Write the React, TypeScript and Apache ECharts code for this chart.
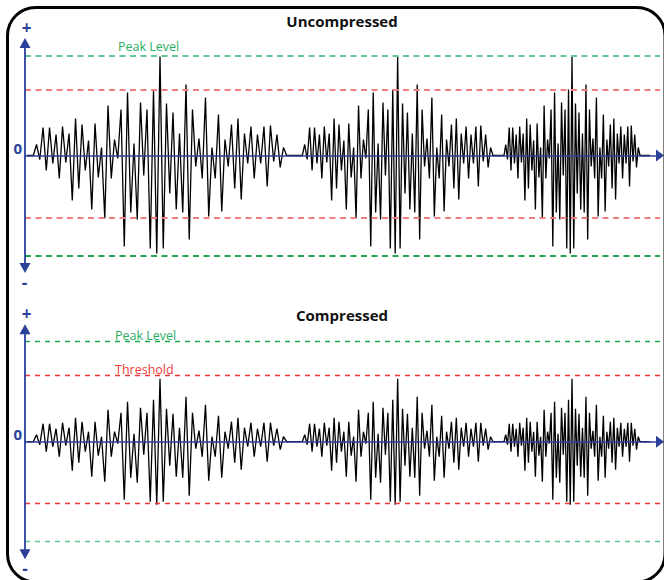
import React, { useEffect, useRef } from "react";
import * as echarts from "echarts";

// One burst of the waveform (alternating peaks / valleys, % of peak level)
const burstShape = [
  0,
  11, -4, 28, -15, 28, -8, 21, -23, 29, -7,
  22, -45, 37, -33, 31, -15, 15, -54, 32, -22,
  8, -63, 50, -23, 16, -3, 46, -91, 63, -57,
  12, -64, 53, -20, 46, -93, 66, -98,
  99, -93, 52, -38, 43, -54, 22, -57, 71, -84,
  46, -11, 17, -23, 58, -61, 8, -23, 41, -56,
  16, -11, 31, -33, 37, -44, 22, -8, 29, -23,
  21, -8, 29, -31, 30, -6, 21, -12, 8,
  0,
];

// The same burst after compression
const compressedShape = [
  0,
  7, -3, 18, -10, 18, -5, 13, -15, 19, -4,
  14, -29, 24, -21, 20, -10, 10, -35, 20, -14,
  5, -40, 32, -15, 10, -2, 29, -58, 40, -36,
  8, -41, 34, -13, 29, -60, 42, -63,
  63, -60, 33, -24, 28, -35, 14, -36, 45, -54,
  29, -7, 11, -15, 37, -39, 5, -15, 26, -36,
  10, -7, 20, -21, 24, -28, 14, -5, 19, -15,
  13, -5, 19, -20, 19, -4, 13, -8, 5,
  0,
];

// time spans (start, end) of the three bursts on the time axis
const burstSpans: [number, number][] = [
  [8.3, 261.7],
  [277.3, 468],
  [479, 615],
];
const waveStart = 2;
const waveEnd = 625;
const timeMax = 635;

const peakLevel = 100;
const peakLevelLow = -100;
const thresholdHigh = 66;
const thresholdLow = -62;
const yLimit = 112.5;

const titles = ["Uncompressed", "Compressed"];

const FONT = "'Open Sans', 'Noto Sans', sans-serif";
const BLUE = "#2a4099";

function buildWave(shape: number[]) {
  const pts: number[][] = [[waveStart, 0]];
  burstSpans.forEach(([s, e]) => {
    const step = (e - s) / (shape.length - 1);
    shape.forEach((v, i) => pts.push([s + i * step, v]));
  });
  pts.push([waveEnd, 0]);
  return pts;
}

export default function App() {
  const ref = useRef<HTMLDivElement>(null);
  useEffect(() => {
    if (!ref.current) return;
    const chart = echarts.init(ref.current, undefined, { renderer: "svg" });

    const gridTops = [43, 329.2];
    const styles = [
      {
        greenTop: "#62c993",
        greenBottom: "#22a552",
        red: "#f27d7d",
        width: 2,
        dash: [6, 4.5],
        labelDist: 3,
        thresholdLabel: false,
      },
      {
        greenTop: "#1fa64d",
        greenBottom: "#5ec68d",
        red: "#ee3535",
        width: 1.3,
        dash: [5, 5],
        labelDist: 0,
        thresholdLabel: true,
      },
    ];

    const labelBase = {
      show: true,
      position: "insideStartTop",
      fontSize: 12.5,
      fontFamily: FONT,
      padding: [0, 0, 0, 90],
    };

    const option: any = {
      animation: false,
      title: titles.map((t, i) => ({
        text: t,
        left: 342,
        top: i === 0 ? 13 : 307,
        textAlign: "center",
        padding: 0,
        textStyle: { fontSize: 15, fontWeight: "bold", color: "#111", fontFamily: FONT },
      })),
      grid: gridTops.map((top) => ({ left: 25, top, width: 635, height: 2 * yLimit })),
      xAxis: gridTops.map((_, i) => ({
        type: "value",
        gridIndex: i,
        min: 0,
        max: timeMax,
        z: 5,
        axisLine: {
          show: true,
          onZero: true,
          symbol: ["none", "triangle"],
          symbolSize: [12, 8],
          lineStyle: { color: BLUE, width: 1.5 },
        },
        axisTick: { show: false },
        axisLabel: { show: false },
        splitLine: { show: false },
      })),
      yAxis: gridTops.map((_, i) => ({
        type: "value",
        gridIndex: i,
        min: -yLimit,
        max: yLimit,
        interval: yLimit,
        z: 5,
        axisLine: {
          show: true,
          onZero: true,
          symbol: ["triangle", "triangle"],
          symbolSize: [11, 10],
          lineStyle: { color: BLUE, width: 1.8 },
        },
        axisTick: { show: false },
        splitLine: { show: false },
        axisLabel: {
          formatter: (v: number) => (v === 0 ? "0" : ""),
          color: BLUE,
          fontWeight: "bold",
          fontSize: 15,
          fontFamily: FONT,
          margin: 3,
          verticalAlign: "bottom",
        },
      })),
      series: [burstShape, compressedShape].map((shape, i) => {
        const s = styles[i];
        const ls = (color: string) => ({ color, type: s.dash, width: s.width });
        return {
          type: "line",
          xAxisIndex: i,
          yAxisIndex: i,
          data: buildWave(shape),
          showSymbol: false,
          silent: true,
          lineStyle: { color: "#000", width: 1.3 },
          markLine: {
            silent: true,
            symbol: ["none", "none"],
            label: { show: false },
            data: [
              {
                yAxis: peakLevel,
                lineStyle: ls(s.greenTop),
                label: { ...labelBase, formatter: "Peak Level", color: "#27ad5f", distance: s.labelDist },
              },
              {
                yAxis: thresholdHigh,
                lineStyle: ls(s.red),
                label: s.thresholdLabel
                  ? { ...labelBase, formatter: "Threshold", color: "#ee3a3a", distance: s.labelDist }
                  : { show: false },
              },
              { yAxis: thresholdLow, lineStyle: ls(s.red), label: { show: false } },
              { yAxis: peakLevelLow, lineStyle: ls(s.greenBottom), label: { show: false } },
            ],
          },
        };
      }),
      graphic: [
        {
          type: "rect",
          shape: { x: 7.5, y: 7.5, width: 657.5, height: 574.5, r: 28 },
          style: { fill: "none", stroke: "#000", lineWidth: 3 },
          z: 10,
        },
        ...[
          { t: "+", x: 26.7, y: 27 },
          { t: "-", x: 24.5, y: 282 },
          { t: "+", x: 26.7, y: 313 },
          { t: "-", x: 25, y: 568 },
        ].map((o) => ({
          type: "text",
          x: o.x,
          y: o.y,
          style: {
            text: o.t,
            fill: BLUE,
            font: `bold 17px ${FONT}`,
            textAlign: "center",
            textVerticalAlign: "middle",
          },
        })),
      ],
    };

    chart.setOption(option);
    return () => chart.dispose();
  }, []);

  return (
    <div
      ref={ref}
      style={{ position: "fixed", left: 0, top: 0, width: 664, height: 580, background: "#fff" }}
    />
  );
}
